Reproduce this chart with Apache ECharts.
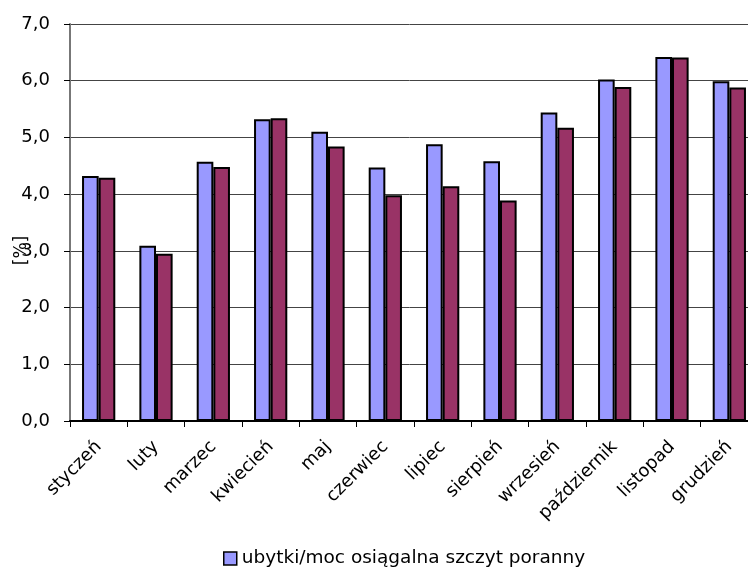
<!DOCTYPE html>
<html>
<head>
<meta charset="utf-8">
<script src="https://cdn.jsdelivr.net/npm/echarts@6/dist/echarts.min.js"></script>
<style>
  html, body { margin: 0; padding: 0; background: #fff; overflow: hidden; }
  #chart { width: 748px; height: 567px; }
</style>
</head>
<body>
<div id="chart"></div>
<script>
// Monthly losses relative to available capacity, morning and evening peaks [%]
const months = ['styczeń', 'luty', 'marzec', 'kwiecień', 'maj', 'czerwiec', 'lipiec',
  'sierpień', 'wrzesień', 'październik', 'listopad', 'grudzień'];
const morningPeak = [4.32, 3.09, 4.57, 5.32, 5.10, 4.47, 4.88, 4.58, 5.44, 6.02, 6.42, 5.99];
const eveningPeak = [4.29, 2.95, 4.48, 5.34, 4.84, 3.98, 4.14, 3.89, 5.17, 5.89, 6.41, 5.88];
const morningName = 'ubytki/moc osiągalna szczyt poranny';
const eveningName = 'ubytki/moc osiągalna szczyt wieczorny';

const font = 'DejaVu Sans, Verdana, sans-serif';
const chart = echarts.init(document.getElementById('chart'));
chart.setOption({
  animation: false,
  textStyle: { fontFamily: font },
  grid: {
    left: 70, top: 24, width: 688, bottom: 146,
    containLabel: false, outerBoundsMode: 'none'
  },
  legend: {
    data: [morningName],
    left: 218, top: 544,
    icon: 'rect', itemWidth: 13, itemHeight: 13, itemGap: 5,
    itemStyle: { borderColor: '#000', borderWidth: 1.5 },
    textStyle: { fontSize: 18.5, color: '#000', fontFamily: font }
  },
  xAxis: {
    type: 'category',
    data: months,
    axisLine: { lineStyle: { color: '#000', width: 2 } },
    axisTick: { show: true, alignWithLabel: false, length: 6, lineStyle: { color: '#000' } },
    axisLabel: { rotate: 45, margin: 23, fontSize: 18, color: '#000', fontFamily: font, interval: 0 }
  },
  yAxis: {
    type: 'value',
    min: 0, max: 7, interval: 1,
    name: '[%]',
    nameLocation: 'middle',
    nameGap: 40,
    nameMoveOverlap: false,
    nameRotate: 90,
    nameTextStyle: { fontSize: 17, color: '#000', fontFamily: font, padding: [0, 56, 0, 0] },
    axisLine: { show: true, lineStyle: { color: '#777', width: 2 } },
    axisTick: { show: true, length: 6, lineStyle: { color: '#000' } },
    axisLabel: {
      fontSize: 18, color: '#000', fontFamily: font, margin: 20,
      formatter: v => v.toFixed(1).replace('.', ',')
    },
    splitLine: { lineStyle: { color: '#444', width: 1 } }
  },
  series: [
    {
      name: morningName, type: 'bar', data: morningPeak,
      barGap: '0%', barCategoryGap: '42%',
      itemStyle: { color: '#9999FF', borderColor: '#000', borderWidth: 2 }
    },
    {
      name: eveningName, type: 'bar', data: eveningPeak,
      barGap: '0%', barCategoryGap: '42%',
      itemStyle: { color: '#993366', borderColor: '#000', borderWidth: 2 }
    }
  ]
});
</script>
</body>
</html>
